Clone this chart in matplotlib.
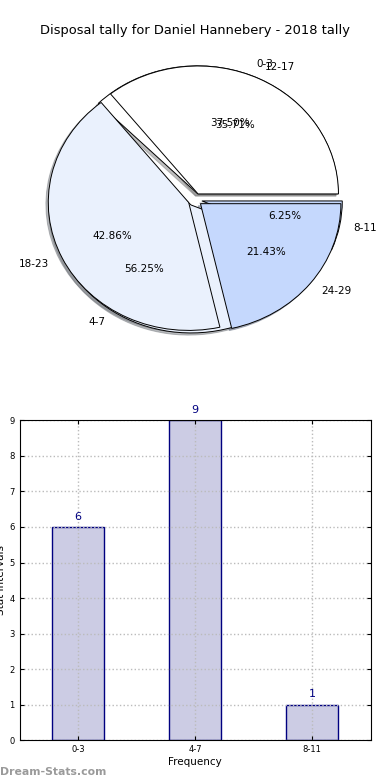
import matplotlib
matplotlib.use("Agg")
import matplotlib.pyplot as plt

# pie 1: first three intervals, pie 2: next three intervals
labels_a = ['0-3', '4-7', '8-11']
counts_a = [6, 9, 1]
labels_b = ['12-17', '18-23', '24-29']
counts_b = [5, 6, 3]

pie_colors = ['#ffffff', '#eaf1fd', '#c5d8fd']
explode = [0.05, 0.05, 0.05]

# bar chart
bar_labels = ['0-3', '4-7', '8-11']
bar_values = [6, 9, 1]

fig, (ax1, ax2) = plt.subplots(2, 1, figsize=(3.9, 7.8), dpi=100)
fig.subplots_adjust(left=0.05, right=0.95, top=0.949, bottom=0.051, hspace=0.19)

for lab, cnt in ((labels_a, counts_a), (labels_b, counts_b)):
    ax1.pie(cnt, labels=lab, colors=pie_colors, explode=explode, autopct='%1.2f%%',
            shadow={'ox': -0.012, 'oy': -0.012, 'shade': 0.5},
            wedgeprops={'edgecolor': 'black', 'linewidth': 0.7},
            textprops={'fontsize': 7.5})
ax1.set_aspect('auto')
ax1.set_xlim(-1.25, 1.25)
ax1.set_ylim(-1.25, 1.25)
ax1.set_title('Disposal tally for Daniel Hannebery - 2018 tally', fontsize=9.4, pad=4)

x = range(len(bar_values))
bars = ax2.bar(x, bar_values, width=0.45, color='#ccccE4', edgecolor='#000080', linewidth=1)
for b, v in zip(bars, bar_values):
    ax2.text(b.get_x() + b.get_width() / 2, v + 0.15, str(v), ha='center', va='bottom',
             color='#000080', fontsize=8)
ax2.set_xlim(-0.5, 2.5)
ax2.set_ylim(0, 9)
ax2.set_yticks(range(10))
ax2.set_xticks(list(x))
ax2.set_xticklabels(bar_labels)
ax2.tick_params(labelsize=6, direction='in', top=True, right=True, length=3)
ax2.grid(True, linestyle=':', color='#bbbbbb', linewidth=1)
for s in ax2.spines.values():
    s.set_zorder(3)
ax2.set_xlabel('Frequency', fontsize=7.5, labelpad=2)
ax2.set_ylabel('Stat Intervals', fontsize=7.5, labelpad=2)

fig.text(0.0, 0.006, 'Dream-Stats.com', color='#9a9a9a', fontsize=7.8, fontweight='bold')

fig.savefig('out.png')
